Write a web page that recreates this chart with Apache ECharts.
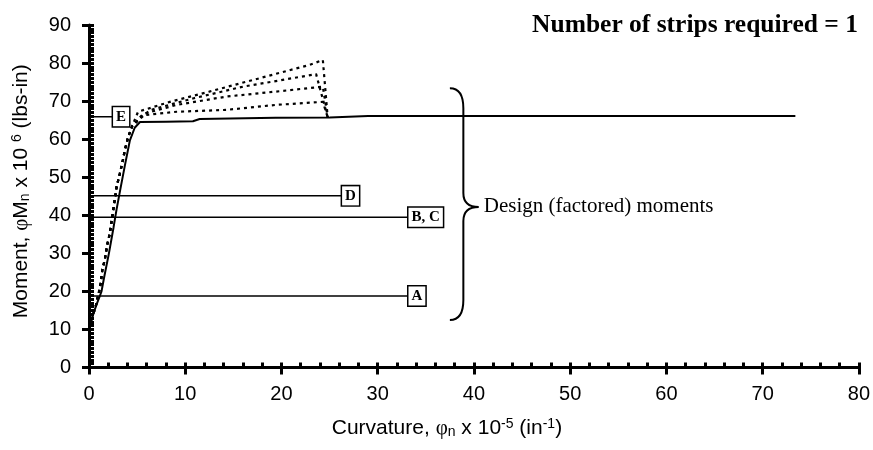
<!DOCTYPE html>
<html><head><meta charset="utf-8">
<script src="https://cdn.jsdelivr.net/npm/echarts@6/dist/echarts.min.js"></script>
<style>html,body{margin:0;padding:0;background:#fff}#c{width:873px;height:450px}</style>
</head><body><div id="c"></div>
<script>
// ---------- data ----------
const titleText = 'Number of strips required = 1';
const braceText = 'Design (factored) moments';
// moment-curvature capacity curve (solid)
const capacityCurve = [[0,10],[0.2,11.6],[0.5,14.5],[0.85,17],[1.1,18.6],[1.3,20],[1.55,23.4],[2.07,30],[2.55,36.8],[2.87,41.6],[3.21,46.2],[3.73,53.1],[4.24,59.6],[4.75,63],[5.3,64.5],[8,64.6],[10.8,64.7],[11.5,65.3],[19.4,65.6],[25,65.7],[29,66.1],[73.4,66.1]];
// dotted curves (shared rising part, then fanning out)
const dottedRise = [[0.18,10.7],[0.34,13.3],[0.69,16],[1.04,19.9],[1.21,22.1],[1.38,25.6],[1.63,28.2],[1.89,32.2],[2.17,35.3],[2.52,41.4],[2.87,47.5],[3.21,51],[3.49,54.1],[3.73,57.2],[4.07,60.6],[4.5,63.5]];
const fan1 = [[5.1,67.2],[8.4,69.8],[12.5,72.5],[17.7,76],[22.9,79.5],[24.3,80.8],[24.8,65.8]];
const fan2 = [[6.3,67.6],[10.8,70.7],[16,73.8],[21.1,76],[23.6,77.1],[24.8,65.8]];
const fan3 = [[5.6,66.6],[9.1,69],[14.3,71.2],[19.4,72.5],[24.3,73.8],[24.8,65.8]];
const fan4 = [[5.6,66.3],[9.1,67.2],[14.3,67.7],[19.4,69],[24.3,69.8],[24.8,65.8]];
// design (factored) moments
const designNames = ['A','B, C','D','E'];
const designValues = [18.8, 39.5, 45.1, 65.9];
const designEnds = [33.2, 33.2, 26.3, 2.5];
// brace: [end x, spine x, tip x], [top y, tip y, bottom y]
const braceX = [37.5, 38.9, 40.5];
const braceY = [73.4, 42.2, 12.5];
// axes
const xMin = 0, xMax = 80, xStep = 10;
const yMin = 0, yMax = 90, yStep = 10;

// ---------- chart ----------
const chart = echarts.init(document.getElementById('c'), null, {renderer: 'canvas'});
const sans = '"Liberation Sans", Arial, sans-serif';
const serif = '"Liberation Serif", "Times New Roman", serif';

const dotStyle = {color: '#000', width: 2.2, type: [3, 4]};
const boxLabel = {
  show: true, distance: 0, fontFamily: serif, fontWeight: 'bold', fontSize: 15, lineHeight: 16,
  color: '#000', backgroundColor: '#fff', borderColor: '#000', borderWidth: 1.5, padding: [2, 3, 1, 3]
};

const series = [];
[fan1, fan2, fan3, fan4].forEach(f => {
  series.push({type: 'line', data: dottedRise.concat(f), symbol: 'none', lineStyle: dotStyle, z: 3, silent: true});
});
series.push({type: 'line', data: capacityCurve, symbol: 'none', lineStyle: {color: '#000', width: 2}, z: 4, silent: true});
designNames.forEach((n, i) => {
  series.push({
    type: 'line', name: n, data: [[0, designValues[i]], [designEnds[i], designValues[i]]],
    symbol: 'none', lineStyle: {color: '#000', width: 1.5}, z: 5, silent: true,
    endLabel: Object.assign({}, boxLabel, {formatter: n})
  });
});
series.push({
  type: 'custom', data: [[braceX[0], braceY[0]]], z: 6, silent: true,
  renderItem: function (params, api) {
    const top = api.coord([braceX[0], braceY[0]]);
    const bot = api.coord([braceX[0], braceY[2]]);
    const tip = api.coord([braceX[2], braceY[1]]);
    const sx = api.coord([braceX[1], braceY[1]])[0];
    const r1 = 20, r2 = 14;
    const d = 'M' + top[0] + ' ' + top[1] +
      ' Q' + sx + ' ' + top[1] + ' ' + sx + ' ' + (top[1] + r1) +
      ' L' + sx + ' ' + (tip[1] - r2) +
      ' Q' + sx + ' ' + tip[1] + ' ' + tip[0] + ' ' + tip[1] +
      ' Q' + sx + ' ' + tip[1] + ' ' + sx + ' ' + (tip[1] + r2) +
      ' L' + sx + ' ' + (bot[1] - r1) +
      ' Q' + sx + ' ' + bot[1] + ' ' + bot[0] + ' ' + bot[1];
    return {
      type: 'group', children: [
        {type: 'path', shape: {pathData: d}, style: {stroke: '#000', lineWidth: 2, fill: null}},
        {type: 'text', style: {text: braceText, x: tip[0] + 5, y: tip[1], fill: '#000',
          font: '21px ' + serif, align: 'left', verticalAlign: 'middle'}}
      ]
    };
  }
});

const richSub = {
  s: {fontFamily: serif, fontSize: 21, color: '#000'},
  sub: {fontFamily: sans, fontSize: 14, color: '#000', verticalAlign: 'bottom', padding: [8, 0, 0, 0]},
  sup: {fontFamily: sans, fontSize: 14, color: '#000', verticalAlign: 'top', padding: [0, 0, 8, 0]}
};

const axisLine = {show: true, onZero: false, lineStyle: {color: '#000', width: 3}};
chart.setOption({
  animation: false,
  backgroundColor: '#fff',
  title: {text: titleText, right: 10, top: 7,
    textStyle: {fontFamily: serif, fontWeight: 'bold', fontSize: 25.5, color: '#000'}},
  grid: {left: 89, right: 11, top: 25, bottom: 82.5, containLabel: false},
  xAxis: [{
    type: 'value', min: xMin, max: xMax, interval: xStep, position: 'bottom',
    axisLine: axisLine,
    axisTick: {show: true, inside: true, length: 5, lineStyle: {color: '#000', width: 3}},
    minorTick: {show: true, splitNumber: 5, length: 5, lineStyle: {color: '#000', width: 3}},
    splitLine: {show: false},
    axisLabel: {margin: 17, fontFamily: sans, fontSize: 20, color: '#000'},
    name: 'Curvature, {s|φ}{sub|n} x 10{sup|-5} (in{sup|-1})',
    nameLocation: 'middle', nameGap: 50,
    nameTextStyle: {fontFamily: sans, fontSize: 21, color: '#000', padding: [0, 54, 0, 0], rich: richSub}
  }, {
    type: 'value', min: xMin, max: xMax, interval: xStep, position: 'bottom', offset: 0,
    axisLine: {show: false}, axisLabel: {show: false}, splitLine: {show: false},
    axisTick: {show: true, inside: false, length: 7, lineStyle: {color: '#000', width: 3}}
  }],
  yAxis: [{
    type: 'value', min: yMin, max: yMax, interval: yStep, position: 'left',
    axisLine: axisLine,
    axisTick: {show: true, inside: true, length: 5, lineStyle: {color: '#000', width: 3}},
    minorTick: {show: true, splitNumber: 10, length: 5, lineStyle: {color: '#000', width: 3}},
    splitLine: {show: false},
    axisLabel: {margin: 18, fontFamily: sans, fontSize: 20, color: '#000'},
    name: 'Moment, {s|φ}M{sub|n} x 10 {sup|6} (lbs-in)',
    nameLocation: 'middle', nameGap: 57,
    nameTextStyle: {fontFamily: sans, fontSize: 21, color: '#000', padding: [0, 0, 0, 10], rich: richSub}
  }, {
    type: 'value', min: yMin, max: yMax, interval: yStep, position: 'left', offset: 0,
    axisLine: {show: false}, axisLabel: {show: false}, splitLine: {show: false},
    axisTick: {show: true, inside: false, length: 7, lineStyle: {color: '#000', width: 3}}
  }],
  series: series
});
</script>
</body></html>
